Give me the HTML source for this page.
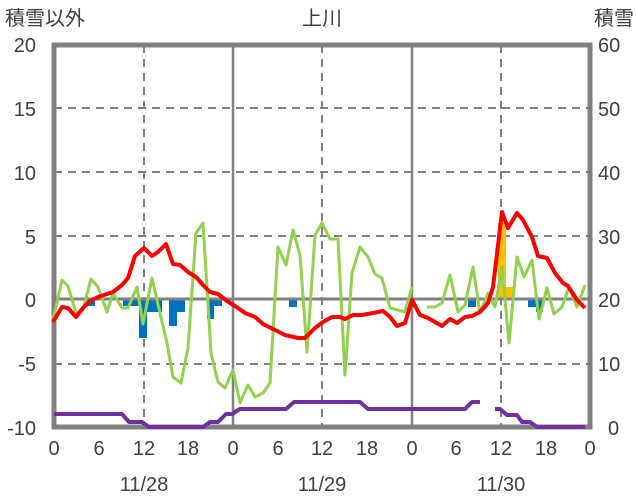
<!DOCTYPE html><html><head><meta charset="utf-8"><style>body{margin:0;background:#fff}svg{display:block}text{font-family:"Liberation Sans","Noto Sans CJK JP",sans-serif;fill:#404040}</style></head><body>
<svg width="636" height="501" viewBox="0 0 636 501">
<g stroke="#808080" stroke-width="2" stroke-dasharray="8,6" fill="none">
<line x1="54" y1="108" x2="590" y2="108"/><line x1="54" y1="172" x2="590" y2="172"/><line x1="54" y1="236" x2="590" y2="236"/><line x1="54" y1="364" x2="590" y2="364"/>
<line x1="144" y1="45" x2="144" y2="427"/><line x1="322" y1="45" x2="322" y2="427"/><line x1="501" y1="45" x2="501" y2="427"/>
</g>
<g stroke="#808080" stroke-width="2.5"><line x1="233" y1="45" x2="233" y2="427"/><line x1="412" y1="45" x2="412" y2="427"/></g>
<rect x="54" y="45" width="536" height="382" fill="none" stroke="#808080" stroke-width="5"/>
<g fill="#0070C0">
<rect x="87" y="299" width="8" height="7"/><rect x="123" y="299" width="16" height="7"/><rect x="139" y="299" width="8" height="39"/><rect x="147" y="299" width="15" height="13"/><rect x="169" y="299" width="8" height="27"/><rect x="177" y="299" width="8" height="13"/><rect x="207" y="299" width="7" height="20"/><rect x="214" y="299" width="8" height="7"/><rect x="289" y="299" width="8" height="8"/><rect x="468" y="299" width="8" height="8"/><rect x="528" y="299" width="8" height="8"/><rect x="536" y="299" width="7" height="13"/>
</g>
<g fill="#FFC000"><rect x="498" y="223" width="8" height="76"/><rect x="506" y="287" width="7" height="12"/></g>
<line x1="54" y1="299" x2="590" y2="299" stroke="#808080" stroke-width="3"/>
<g fill="none" stroke-linejoin="round">
<polyline stroke="#92D050" stroke-width="3" points="53,320 62,280 68,286 76,313 83,310 91,279 98,287 107,312 113,293 122,308 128,308 137,287 143,324 152,278 160,313 167,343 173,377 181,383 188,348 196,233 203,223 211,353 218,382 225,388 233,370 240,403 248,385 255,397 263,393 270,383 278,247 286,265 293,230 300,255 307,352 315,235 322,223 330,239 338,239 345,375 352,273 360,247 368,257 375,274 382,278 390,308 405,312 412,287"/>
<polyline stroke="#92D050" stroke-width="3" points="427,307 435,307 442,303 450,275 458,312 465,305 473,267 480,313 488,293 495,307 502,267 509,343 517,257 524,277 532,260 539,319 547,288 554,314 562,307 569,287 577,307 585,285"/>
<polyline stroke="#FF0000" stroke-width="4" points="53,322 62,307 68,308 76,317 83,308 90,301 98,297 107,294 113,292 122,285 128,278 135,256 144,248 152,256 158,252 166,244 173,264 180,265 188,272 196,277 203,285 210,292 218,294 227,301 235,306 245,313 255,317 263,324 275,330 285,335 298,338 305,338 315,328 323,322 332,317 340,317 345,319 353,315 362,315 373,313 383,311 390,317 397,326 405,323 412,300 420,315 428,318 442,326 450,319 457,323 465,317 472,316 480,312 488,303 493,287 502,212 508,228 517,213 523,220 532,237 538,256 547,258 555,273 563,283 568,286 577,300 585,308"/>
<polyline stroke="#7030A0" stroke-width="4" points="54,414 122,414 129,422 142,422 149,427 203,427 210,422 218,422 226,414 232,414 240,409 286,409 294,402 360,402 368,409 465,409 472,402 480,402"/>
<polyline stroke="#7030A0" stroke-width="4" points="495,409 500,409 507,415 517,415 522,422 530,422 537,427 585,427"/>
</g>
<g font-size="20" text-anchor="end">
<text x="36" y="52">20</text><text x="36" y="116">15</text><text x="36" y="180">10</text><text x="36" y="244">5</text><text x="36" y="307">0</text><text x="36" y="371">-5</text><text x="36" y="435">-10</text>
</g>
<g font-size="20" text-anchor="start">
<text x="598" y="52">60</text><text x="598" y="116">50</text><text x="598" y="180">40</text><text x="598" y="244">30</text><text x="598" y="307">20</text><text x="598" y="371">10</text><text x="608" y="435">0</text>
</g>
<g font-size="20" text-anchor="middle">
<text x="54" y="455">0</text><text x="99" y="455">6</text><text x="144" y="455">12</text><text x="188" y="455">18</text>
<text x="233" y="455">0</text><text x="278" y="455">6</text><text x="322" y="455">12</text><text x="367" y="455">18</text>
<text x="412" y="455">0</text><text x="456" y="455">6</text><text x="501" y="455">12</text><text x="546" y="455">18</text><text x="590" y="455">0</text>
<text x="144" y="491">11/28</text><text x="322" y="491">11/29</text><text x="501" y="491">11/30</text>
<text x="322" y="25">上川</text>
</g>
<text x="5" y="25" font-size="20">積雪以外</text>
<text x="594" y="25" font-size="20">積雪</text>
</svg></body></html>
